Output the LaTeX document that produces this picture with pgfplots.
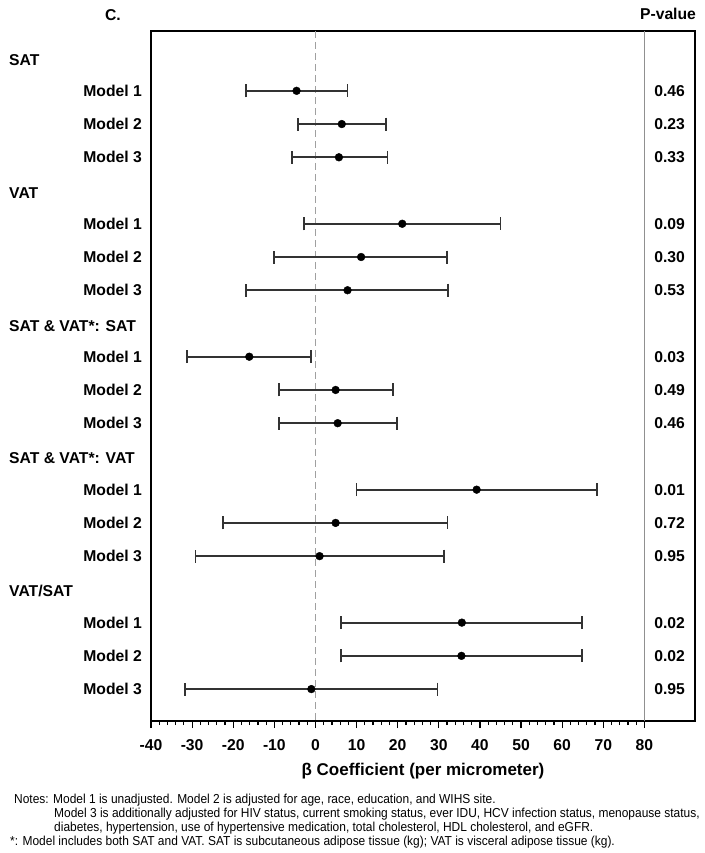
\documentclass[border=0pt]{standalone}
\usepackage{pgfplots}
\pgfplotsset{compat=1.18}
\usepackage{pgfplotstable}
\usepackage{fontspec}
\setmainfont{Liberation Sans}
\newfontfamily\notefont[FakeStretch=0.92]{Liberation Sans}
\definecolor{barcol}{HTML}{333333}
\definecolor{dashcol}{HTML}{A0A0A0}
\definecolor{vcol}{HTML}{909090}

\pgfplotstableread{
row est lo hi p
-1  -4.6 -16.8  7.8 0.46
-2   6.4  -4.2 17.2 0.23
-3   5.7  -5.8 17.5 0.33
-5  21.1  -2.8 45.0 0.09
-6  11.1 -10.0 31.9 0.30
-7   7.8 -16.8 32.2 0.53
-9 -16.1 -31.3 -1.1 0.03
-10  4.9  -8.9 18.8 0.49
-11  5.4  -8.9 19.8 0.46
-13 39.2  10.0 68.4 0.01
-14  4.9 -22.4 32.1 0.72
-15  1.0 -29.2 31.3 0.95
-17 35.6   6.2 64.9 0.02
-18 35.5   6.2 64.9 0.02
-19 -1.0 -31.7 29.7 0.95
}\forest

\newcommand{\lab}{\bfseries\fontsize{15.7}{18}\selectfont}

\begin{document}
\begin{tikzpicture}
\begin{axis}[
  scale only axis, width=544pt, height=690pt,
  xmin=-40, xmax=92.3, ymin=-19.96, ymax=0.80,
  axis line style={line width=1.3pt, black},
  xtick={-40,-30,...,80},
  xticklabels={-40,-30,-20,-10,0,10,20,30,40,50,60,70,80},
  minor xtick={-38,-36,...,78},
  xtick pos=left,
  tick align=outside,
  major tick length=7pt, minor tick length=4pt,
  every tick/.style={line width=1.2pt, black},
  ytick=\empty,
  xticklabel style={font=\lab, anchor=center, yshift=-17pt},
  clip=false,
]
\addplot[dashcol, line width=1.3pt, dash pattern=on 7pt off 4pt] coordinates {(0,0.80) (0,-19.96)};
\addplot[vcol, line width=1.2pt] coordinates {(80,0.80) (80,-19.96)};
\addplot[only marks, mark=*, mark size=3.9pt, black,
  error bars/.cd, x dir=both, x explicit, error mark=|,
  error bar style={line width=1.8pt, barcol},
  error mark options={line width=1.8pt, mark size=6.5pt, barcol}]
  table[x=est, y=row, x error plus expr=\thisrow{hi}-\thisrow{est}, x error minus expr=\thisrow{est}-\thisrow{lo}] {\forest};
\addplot[draw=none, mark=none, nodes near coords, point meta=explicit symbolic,
  every node near coord/.style={anchor=east, font=\lab, inner sep=0pt}]
  table[x expr=89.9, y=row, meta=p] {\forest};
% row labels
\pgfplotsinvokeforeach{1,5,9,13,17}{\node[anchor=east, font=\lab, inner sep=0pt] at (axis cs:-40,-#1) [xshift=-9pt] {Model 1};}
\pgfplotsinvokeforeach{2,6,10,14,18}{\node[anchor=east, font=\lab, inner sep=0pt] at (axis cs:-40,-#1) [xshift=-9pt] {Model 2};}
\pgfplotsinvokeforeach{3,7,11,15,19}{\node[anchor=east, font=\lab, inner sep=0pt] at (axis cs:-40,-#1) [xshift=-9pt] {Model 3};}
\node[anchor=west, font=\lab, inner sep=0pt, text depth=0pt] at (axis cs:-40,-0.07) [xshift=-142pt] {SAT};
\node[anchor=west, font=\lab, inner sep=0pt, text depth=0pt] at (axis cs:-40,-4.07) [xshift=-142pt] {VAT};
\node[anchor=west, font=\lab, inner sep=0pt, text depth=0pt] at (axis cs:-40,-8.07) [xshift=-142pt] {SAT \& VAT*: SAT};
\node[anchor=west, font=\lab, inner sep=0pt, text depth=0pt] at (axis cs:-40,-12.05) [xshift=-142pt] {SAT \& VAT*: VAT};
\node[anchor=west, font=\lab, inner sep=0pt, text depth=0pt] at (axis cs:-40,-16.05) [xshift=-142pt] {VAT/SAT};
\end{axis}
\node[font=\lab, inner sep=0pt] at (-38pt,706pt) {C.};
\node[font=\lab, inner sep=0pt, text depth=0pt] at (517pt,707pt) {P-value};
\node[font=\bfseries\fontsize{17}{20}\selectfont, inner sep=0pt] at (272pt,-50pt) {β Coefficient (per micrometer)};
\begin{scope}[every node/.style={anchor=west, inner sep=0pt, font=\notefont\fontsize{13}{15}\selectfont}]
\node at (-137pt,-79pt) {Notes: Model 1 is unadjusted. Model 2 is adjusted for age, race, education, and WIHS site.};
\node at (-97pt,-93pt) {Model 3 is additionally adjusted for HIV status, current smoking status, ever IDU, HCV infection status, menopause status,};
\node at (-97pt,-107pt) {diabetes, hypertension, use of hypertensive medication, total cholesterol, HDL cholesterol, and eGFR.};
\node at (-141pt,-121pt) {*: Model includes both SAT and VAT. SAT is subcutaneous adipose tissue (kg); VAT is visceral adipose tissue (kg).};
\end{scope}
\pgfresetboundingbox
\path (-151pt,-132pt) rectangle (553pt,721pt);
\end{tikzpicture}
\end{document}
